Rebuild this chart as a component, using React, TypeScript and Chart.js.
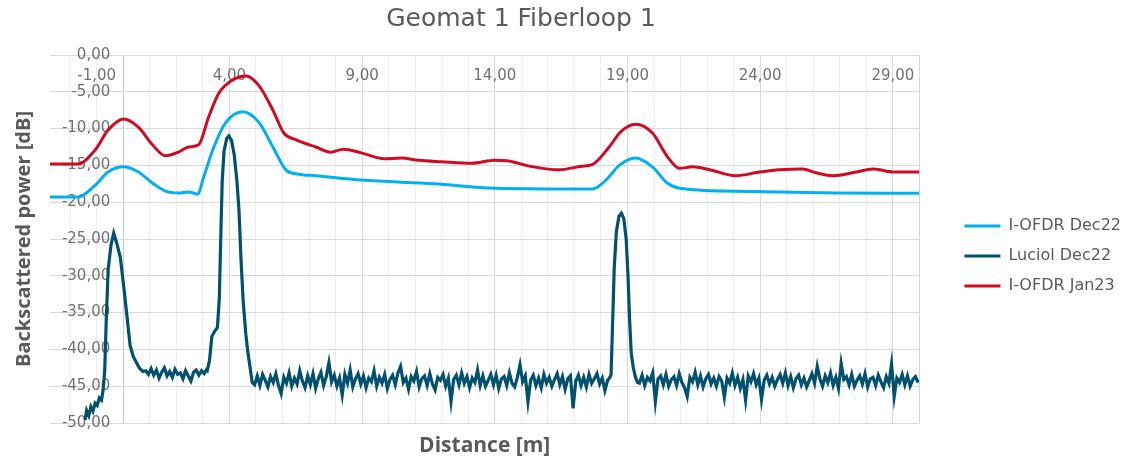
import { useEffect, useRef } from "react";
import { Chart, registerables } from "chart.js";

Chart.register(...registerables);

const chartTitle = "Geomat 1 Fiberloop 1";
const xAxisTitle = "Distance [m]";
const yAxisTitle = "Backscattered power [dB]";
const seriesNames = ["I-OFDR Dec22", "Luciol Dec22", "I-OFDR Jan23"];
const seriesColors = ["#00b0f0", "#00506e", "#cf0a22"];

const xMin = -2.76;
const xMax = 30;
const xTickValues = [-1, 4, 9, 14, 19, 24, 29];
const xGridValues = [-2, -1, 0, 1, 2, 3, 4, 5, 6, 7, 8, 9, 10, 11, 12, 13, 14, 15, 16, 17, 18, 19, 20, 21, 22, 23, 24, 25, 26, 27, 28, 29, 30];
const yTickValues = [0, -5, -10, -15, -20, -25, -30, -35, -40, -45, -50];

// I-OFDR Dec22
const ofdrDec22X = [-2.76, -1.7, -1.06, -0.57, 0, 0.57, 1.1, 1.59, 2.08, 2.46, 2.8, 3.03, 3.37, 3.86, 4.5, 5.1, 5.64, 6.13, 6.62, 7.26, 8.97, 11.73, 14.0, 17.67, 18.16, 18.69, 19.3, 19.94, 20.5, 20.96, 23.08, 26.86, 30];
const ofdrDec22Y = [-19.3, -19.3, -17.7, -15.9, -15.2, -15.9, -17.4, -18.5, -18.75, -18.6, -18.9, -16.6, -12.9, -9.2, -7.7, -9.1, -12.5, -15.6, -16.2, -16.4, -17.0, -17.5, -18.1, -18.2, -17.1, -15.0, -14.0, -15.2, -17.4, -18.1, -18.5, -18.75, -18.8];

// I-OFDR Jan23
const ofdrJan23X = [-2.76, -1.7, -1.06, -0.57, 0, 0.57, 1.1, 1.59, 2.08, 2.46, 2.84, 3.22, 3.6, 4.12, 4.62, 5.1, 5.64, 6.05, 6.5, 7.26, 7.83, 8.29, 8.97, 9.84, 10.48, 11.12, 12.0, 13.13, 14.0, 14.53, 15.29, 16.42, 17.29, 17.67, 18.31, 18.75, 19.3, 19.94, 20.5, 20.96, 21.45, 22.1, 23.08, 23.99, 24.74, 25.6, 26.1, 26.75, 27.62, 28.26, 29.02, 30];
const ofdrJan23Y = [-14.8, -14.8, -12.9, -10.2, -8.7, -9.8, -12.2, -13.7, -13.2, -12.5, -12.2, -8.4, -5.2, -3.4, -2.85, -4.1, -7.5, -10.6, -11.5, -12.5, -13.2, -12.8, -13.3, -14.1, -14.0, -14.3, -14.5, -14.7, -14.3, -14.4, -15.1, -15.6, -15.1, -14.9, -12.5, -10.4, -9.4, -10.6, -13.8, -15.4, -15.2, -15.6, -16.4, -15.9, -15.6, -15.5, -16.0, -16.4, -15.9, -15.5, -15.9, -15.9];

// Luciol Dec22 — shaped parts (explicit points)
const luciolStartX = [-1.44, -1.38, -1.3, -1.22, -1.14, -1.06, -0.98, -0.9, -0.82, -0.76, -0.7, -0.64, -0.57, -0.46, -0.36, -0.25, -0.11, 0.02, 0.14, 0.26, 0.38, 0.5, 0.62, 0.74];
const luciolStartY = [-49.6, -48.3, -49.0, -47.8, -48.4, -47.3, -47.6, -46.6, -46.9, -45.6, -43.0, -36.0, -29.2, -25.8, -24.2, -25.5, -27.5, -31.5, -35.5, -39.5, -41.0, -41.8, -42.6, -43.0];
const luciolPeak2X = [3.17, 3.25, 3.34, 3.45, 3.55, 3.62, 3.68, 3.73, 3.8, 3.9, 3.98, 4.08, 4.18, 4.28, 4.36, 4.44, 4.52, 4.62, 4.7, 4.78, 4.86];
const luciolPeak2Y = [-42.8, -41.5, -38.2, -37.5, -37.0, -33.0, -24.0, -17.0, -13.0, -11.3, -11.0, -11.6, -13.5, -17.0, -21.0, -28.0, -33.5, -38.0, -40.5, -42.5, -44.5];
const luciolPeak3X = [18.3, 18.38, 18.43, 18.5, 18.58, 18.68, 18.77, 18.86, 18.95, 19.02, 19.08, 19.14, 19.22, 19.3, 19.38];
const luciolPeak3Y = [-44.0, -43.5, -37.5, -29.0, -24.0, -21.9, -21.5, -22.2, -25.0, -30.0, -36.0, -40.5, -42.5, -43.8, -44.5];

// Luciol Dec22 — noise floor readings, sampled every 0.1 m
const noiseStep = 0.1;
const noiseAStart = 0.85;
const noiseAY = [-42.9, -43.4, -42.6, -43.5, -42.8, -43.9, -43.1, -42.5, -43.6, -43.0, -43.8, -42.7, -43.4, -43.2, -44.0, -42.9, -43.6, -44.3, -43.1, -42.8, -43.5, -42.9, -43.3, -42.7];
const noiseBStart = 4.95;
const noiseBY = [
  -44.8, -43.6, -44.9, -43.4, -44.2, -45.1, -43.7, -44.5, -43.3, -44.9,
  -46.0, -43.8, -44.6, -43.2, -45.0, -43.9, -44.7, -42.9, -44.3, -45.2,
  -43.6, -44.8, -43.3, -45.3, -44.0, -43.1, -44.9, -43.7, -41.8, -44.4,
  -43.5, -45.0, -43.9, -46.2, -43.4, -44.6, -42.8, -45.1, -44.0, -43.3,
  -44.7, -43.6, -45.2, -43.9, -44.4, -42.9, -45.0, -43.8, -44.6, -43.4,
  -45.3, -44.1, -43.5, -44.8, -43.2, -42.3, -44.5, -43.9, -45.4, -43.7,
  -44.3, -43.0, -45.1, -44.0, -43.6, -44.9, -43.3, -44.7, -45.5, -43.8,
  -44.2, -43.4, -45.0, -43.9, -47.1, -44.1, -43.5, -44.8, -43.2, -44.6,
  -43.7, -45.2, -43.9, -44.5, -42.8, -44.9, -43.6, -45.0, -44.2, -43.4,
  -44.8, -43.5, -45.3, -44.0, -43.7, -44.9, -43.2, -44.6, -45.1, -43.8,
  -42.1, -44.4, -43.6, -47.1, -44.2, -43.5, -44.9, -43.9, -45.2, -43.4,
  -44.6, -43.8, -45.0, -44.1, -43.3, -44.8, -43.7, -45.4, -44.0, -43.6,
  -48.0, -44.3, -43.5, -44.9, -43.8, -45.1, -43.4, -44.6, -44.0, -43.3,
  -44.7, -43.9, -45.6, -44.2,
];
const noiseCStart = 19.45;
const noiseCY = [
  -44.6, -43.5, -44.9, -43.8, -44.3, -43.2, -47.1, -44.0, -43.6, -44.8,
  -43.4, -45.0, -44.1, -43.7, -44.9, -43.3, -44.5, -45.2, -46.4, -43.8,
  -44.4, -43.1, -44.8, -43.6, -45.1, -44.0, -43.4, -44.7, -43.9, -45.0,
  -43.7, -44.3, -46.5, -43.9, -44.6, -43.2, -44.9, -43.8, -45.3, -44.1,
  -46.9, -43.6, -44.4, -43.3, -44.8, -43.9, -46.8, -44.2, -43.5, -44.7,
  -43.8, -45.0, -44.1, -43.4, -44.6, -43.2, -44.9, -43.7, -45.2, -44.0,
  -43.5, -44.8, -43.9, -45.1, -44.2, -43.3, -44.6, -42.3, -44.0, -45.0,
  -43.6, -44.5, -43.2, -44.9, -43.8, -45.3, -41.9, -44.1, -43.7, -44.8,
  -43.4, -45.0, -44.2, -43.6, -44.7, -43.3, -45.1, -44.0, -43.8, -44.9,
  -43.5, -44.4, -45.2, -43.7, -44.6, -42.0, -46.4, -43.9, -44.5, -43.4,
  -44.8, -43.6, -45.0, -44.1, -43.7, -44.5,
];

const fmt = (v: number) => Number(v).toFixed(2).replace(".", ",");
const zip = (xs: number[], ys: number[]) => xs.map((x, i) => ({ x, y: ys[i] }));
const sampled = (start: number, ys: number[]) =>
  ys.map((y, i) => ({ x: Math.round((start + i * noiseStep) * 100) / 100, y }));

const tickFont = { family: "'DejaVu Sans', Verdana, sans-serif", size: 15 };
const tickColor = "#707070";
const titleColor = "#595959";

const titlePlugin = {
  id: "excelTitle",
  afterDraw(chart: any) {
    const { ctx } = chart;
    ctx.save();
    ctx.font = "25px 'DejaVu Sans', sans-serif";
    ctx.fillStyle = titleColor;
    ctx.textAlign = "center";
    ctx.textBaseline = "middle";
    ctx.fillText(chartTitle, 521, 19);
    ctx.restore();
  },
};

export default function App() {
  const canvasRef = useRef<HTMLCanvasElement | null>(null);

  useEffect(() => {
    if (!canvasRef.current) return;
    const luciolData = [
      ...zip(luciolStartX, luciolStartY),
      ...sampled(noiseAStart, noiseAY),
      ...zip(luciolPeak2X, luciolPeak2Y),
      ...sampled(noiseBStart, noiseBY),
      ...zip(luciolPeak3X, luciolPeak3Y),
      ...sampled(noiseCStart, noiseCY),
    ];
    const chart = new Chart(canvasRef.current, {
      type: "line",
      data: {
        datasets: [
          {
            label: seriesNames[0],
            data: zip(ofdrDec22X, ofdrDec22Y),
            borderColor: seriesColors[0],
            backgroundColor: seriesColors[0],
            borderWidth: 3,
            pointRadius: 0,
            cubicInterpolationMode: "monotone",
          },
          {
            label: seriesNames[1],
            data: luciolData,
            borderColor: seriesColors[1],
            backgroundColor: seriesColors[1],
            borderWidth: 3.2,
            pointRadius: 0,
            tension: 0,
          },
          {
            label: seriesNames[2],
            data: zip(ofdrJan23X, ofdrJan23Y),
            borderColor: seriesColors[2],
            backgroundColor: seriesColors[2],
            borderWidth: 3,
            pointRadius: 0,
            cubicInterpolationMode: "monotone",
          },
        ],
      },
      options: {
        animation: false,
        responsive: true,
        maintainAspectRatio: false,
        layout: { padding: { top: 55, right: 0, bottom: 7, left: 0 } },
        plugins: {
          title: { display: false },
          tooltip: { enabled: false },
          legend: {
            position: "right",
            align: "center",
            maxWidth: 220,
            labels: {
              boxWidth: 36,
              boxHeight: 3,
              font: { family: "'DejaVu Sans', Verdana, sans-serif", size: 16 },
              color: titleColor,
              padding: 14,
              generateLabels: (c: any) =>
                Chart.defaults.plugins.legend.labels
                  .generateLabels(c)
                  .map((l: any) => ({ ...l, lineWidth: 0 })),
            },
          },
        },
        scales: {
          x: {
            type: "linear",
            position: "bottom",
            min: xMin,
            max: xMax,
            afterBuildTicks: (s: any) => {
              s.ticks = xGridValues.map((v) => ({ value: v }));
            },
            ticks: { display: false },
            grid: {
              drawTicks: false,
              color: (c: any) => {
                const v = c.tick ? c.tick.value : 0;
                if (v === 0) return "#c8c8c8";
                if (v === 30) return "#d4d4d4";
                if (v >= 4 && (v - 4) % 5 === 0) return "#d9d9d9";
                return "#ededed";
              },
            },
            border: { display: false },
            title: {
              display: true,
              text: xAxisTitle,
              font: { family: "'Open Sans', sans-serif", size: 21, weight: "bold", lineHeight: 1 },
              color: titleColor,
              padding: { top: 13, bottom: 0 },
            },
          },
          xTop: {
            type: "linear",
            axis: "x",
            position: { y: 0 },
            min: xMin,
            max: xMax,
            afterBuildTicks: (s: any) => {
              s.ticks = xTickValues.map((v) => ({ value: v }));
            },
            ticks: {
              callback: (v: any) => fmt(v),
              font: tickFont,
              color: tickColor,
              padding: 12,
              autoSkip: false,
              maxRotation: 0,
            },
            grid: { display: false, drawTicks: false },
            border: { display: false },
          },
          y: {
            type: "linear",
            position: { x: -0.49 },
            min: -50,
            max: 0,
            afterBuildTicks: (s: any) => {
              s.ticks = yTickValues.map((v) => ({ value: v }));
            },
            ticks: {
              callback: (v: any) => fmt(v),
              font: tickFont,
              color: tickColor,
              autoSkip: false,
            },
            grid: { color: "#d9d9d9", drawTicks: false },
            border: { display: false },
          },
          yTitle: {
            type: "linear",
            axis: "y",
            position: "left",
            ticks: { display: false },
            grid: { display: false, drawTicks: false },
            border: { display: false },
            title: {
              display: true,
              text: yAxisTitle,
              font: { family: "'Open Sans', sans-serif", size: 20, weight: "bold" },
              color: titleColor,
              padding: { top: 12, bottom: 14 },
            },
          },
          yGap: {
            type: "linear",
            axis: "y",
            position: "right",
            ticks: { display: false },
            grid: { display: true, drawOnChartArea: false, drawTicks: true, tickLength: 31, color: "rgba(0,0,0,0)" },
            border: { display: false },
          },
        },
      } as any,
      plugins: [titlePlugin],
    });
    return () => chart.destroy();
  }, []);

  return (
    <div style={{ position: "fixed", left: 0, top: 0, width: 1131, height: 464, background: "#fff" }}>
      <canvas ref={canvasRef} />
    </div>
  );
}
